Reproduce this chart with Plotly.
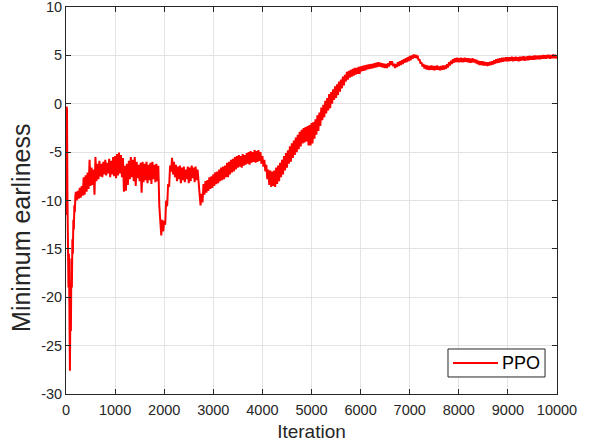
import plotly.graph_objects as go

# ---- data ----
early_iters = [0, 10, 20, 30, 40, 50, 60, 70, 80, 90,
               100, 110, 120, 130, 140, 150, 160, 170, 180, 190]
early_vals = [-11.5, -0.3, -0.5, -10.0, -15.0, -19.0, -15.5, -23.0, -27.6, -20.0,
              -23.5, -16.0, -19.0, -14.0, -15.5, -12.0, -13.0, -10.5, -11.2, -9.6]

# from iteration 200 on, one value every 20 iterations
vals_0200 = [-9.1, -10.0, -9.0, -9.8, -8.7, -9.7, -8.5, -9.5, -7.6, -9.4,
             -7.4, -9.1, -7.1, -8.8, -5.8, -8.5, -6.6, -8.4, -6.8, -9.4,
             -5.5, -8.0, -6.2, -7.8, -5.9, -7.5, -6.2, -7.6, -6.0, -7.3,
             -5.8, -7.4, -6.1, -7.2, -5.7, -7.6, -5.9, -7.3, -5.5, -7.5]
vals_1000 = [-5.4, -7.7, -5.2, -7.4, -5.05, -7.2, -5.3, -7.6, -5.6, -9.1,
             -6.4, -9.0, -6.2, -8.4, -5.9, -7.8, -5.5, -7.6, -5.8, -8.0,
             -5.5, -8.5, -6.0, -7.7, -6.3, -8.0, -6.1, -9.2, -6.0, -8.1,
             -6.2, -7.9, -6.0, -8.2, -6.3, -7.9, -6.1, -8.3, -6.0, -7.8,
             -6.3, -8.1, -6.2, -8.0, -6.4, -10.5, -12.6, -13.6, -12.0, -13.2]
vals_2000 = [-12.1, -12.5, -10.0, -10.6, -8.3, -8.6, -6.4, -7.0, -5.6, -7.3,
             -6.0, -7.6, -6.3, -8.0, -6.5, -7.8, -6.4, -8.2, -6.6, -7.9,
             -6.5, -8.1, -6.8, -7.8, -6.5, -8.2, -6.6, -8.0, -6.4, -7.7,
             -6.6, -8.1, -6.5, -7.9, -6.8, -8.3, -9.2, -10.5, -9.3, -10.2,
             -8.3, -9.4, -8.0, -9.2, -7.9, -9.0, -7.6, -8.8, -7.5, -8.7]
vals_3000 = [-7.3, -8.5, -7.1, -8.3, -7.0, -8.2, -6.8, -8.0, -6.6, -7.9,
             -6.5, -7.8, -6.4, -7.6, -6.1, -7.6, -6.0, -7.3, -5.8, -7.1,
             -5.7, -7.0, -5.5, -6.8, -5.4, -6.6, -5.3, -6.5, -5.4, -6.6,
             -5.2, -6.4, -5.3, -6.3, -5.1, -6.2, -5.0, -6.3, -4.9, -6.1,
             -5.0, -6.0, -4.8, -6.1, -4.9, -6.0, -4.8, -5.9, -5.0, -6.2]
vals_4000 = [-5.4, -6.5, -5.8, -7.0, -6.3, -7.8, -6.8, -8.4, -6.9, -8.6,
             -7.0, -8.5, -6.9, -8.6, -6.6, -8.3, -6.4, -8.0, -6.1, -7.6,
             -5.8, -7.3, -5.4, -6.9, -5.1, -6.6, -4.8, -6.2, -4.4, -6.0,
             -4.1, -5.6, -3.8, -5.3, -3.5, -5.0, -3.2, -4.7, -2.9, -4.4,
             -2.7, -4.1, -2.5, -4.0, -2.4, -3.9, -2.3, -4.3, -2.2, -4.3]
vals_5000 = [-2.0, -4.1, -1.9, -3.6, -1.6, -3.2, -1.2, -2.8, -0.9, -2.3,
             -0.4, -1.7, -0.1, -1.4, 0.3, -1.0, 0.6, -0.7, 1.0, -0.45,
             1.2, 0.0, 1.5, 0.4, 1.8, 0.6, 2.0, 0.9, 2.3, 1.25,
             2.5, 1.6, 2.8, 1.9, 3.0, 2.3, 3.3, 2.5, 3.4, 2.7,
             3.5, 2.8, 3.6, 2.9, 3.7, 3.0, 3.7, 3.1, 3.8, 3.1]
vals_6000 = [3.85, 3.35, 3.9, 3.4, 3.95, 3.45, 4.0, 3.55, 4.05, 3.6,
             4.1, 3.65, 4.1, 3.7, 4.2, 3.75, 4.25, 3.8, 4.3, 3.85,
             4.25, 3.8, 4.2, 3.75, 4.15, 3.7, 4.1, 3.7, 4.2, 3.85,
             4.4, 4.0, 4.4, 3.9, 4.15, 3.7, 4.1, 3.8, 4.3, 3.9,
             4.4, 4.0, 4.5, 4.1, 4.6, 4.25, 4.7, 4.3, 4.8, 4.4]
vals_7000 = [4.95, 4.5, 5.0, 4.65, 5.1, 4.75, 5.05, 4.7, 5.0, 4.5,
             4.6, 4.15, 4.3, 3.85, 4.1, 3.65, 4.0, 3.55, 3.95, 3.5,
             3.9, 3.5, 3.95, 3.5, 3.9, 3.45, 3.9, 3.5, 3.95, 3.5,
             3.85, 3.45, 3.9, 3.5, 3.95, 3.55, 3.95, 3.6, 4.1, 3.75,
             4.3, 3.95, 4.45, 4.1, 4.6, 4.25, 4.7, 4.3, 4.75, 4.3]
vals_8000 = [4.7, 4.3, 4.75, 4.3, 4.7, 4.3, 4.75, 4.35, 4.7, 4.3,
             4.7, 4.25, 4.65, 4.25, 4.7, 4.3, 4.6, 4.2, 4.55, 4.1,
             4.45, 4.0, 4.4, 4.0, 4.4, 3.95, 4.35, 3.95, 4.3, 3.9,
             4.3, 3.95, 4.35, 4.0, 4.4, 4.05, 4.5, 4.15, 4.6, 4.2,
             4.65, 4.25, 4.7, 4.3, 4.75, 4.35, 4.75, 4.4, 4.8, 4.4]
vals_9000 = [4.8, 4.4, 4.8, 4.45, 4.85, 4.4, 4.8, 4.45, 4.85, 4.45,
             4.8, 4.4, 4.85, 4.45, 4.85, 4.5, 4.9, 4.45, 4.85, 4.5,
             4.9, 4.5, 4.95, 4.55, 4.9, 4.55, 4.95, 4.55, 5.0, 4.6,
             4.95, 4.6, 5.0, 4.6, 5.0, 4.65, 5.05, 4.65, 5.0, 4.65,
             5.05, 4.7, 5.05, 4.65, 5.05, 4.7, 5.1, 4.7, 5.05, 4.7,
             4.9]

x_ticks = [0, 1000, 2000, 3000, 4000, 5000, 6000, 7000, 8000, 9000, 10000]
x_tick_text = ["0", "1000", "2000", "3000", "4000", "5000", "6000", "7000", "8000", "9000", "10000"]
y_ticks = [-30, -25, -20, -15, -10, -5, 0, 5, 10]
y_tick_text = ["-30", "-25", "-20", "-15", "-10", "-5", "0", "5", "10"]
series_name = "PPO"
x_title = "Iteration"
y_title = "Minimum earliness"

rest_vals = (vals_0200 + vals_1000 + vals_2000 + vals_3000 + vals_4000 +
             vals_5000 + vals_6000 + vals_7000 + vals_8000 + vals_9000)
rest_iters = [200 + 20 * i for i in range(len(rest_vals))]
iters = early_iters + rest_iters
vals = early_vals + rest_vals

AX = "#262626"
GRID = "#e3e3e3"
RED = "#ff0000"
FONT = "Liberation Sans, Arial, Helvetica, sans-serif"

fig = go.Figure()
fig.add_trace(go.Scatter(x=iters, y=vals, mode="lines", name=series_name,
                         showlegend=False, line=dict(color=RED, width=2)))

axis_common = dict(showline=True, linecolor=AX, linewidth=1, mirror="ticks",
                   ticks="inside", ticklen=5, tickcolor=AX, tickwidth=1,
                   showgrid=True, gridcolor=GRID, gridwidth=1, zeroline=False,
                   automargin=False, ticklabeloverflow="allow",
                   tickfont=dict(family=FONT, size=14.5, color=AX))

# legend box drawn in the lower-right corner of the axes (MATLAB style)
fig.add_shape(type="rect", xref="paper", yref="paper",
              x0=0.778, x1=0.9756, y0=0.044, y1=0.1163,
              line=dict(color=AX, width=1), fillcolor="white", layer="above")
fig.add_shape(type="line", xref="paper", yref="paper",
              x0=0.7882, x1=0.8798, y0=0.0801, y1=0.0801,
              line=dict(color=RED, width=2), layer="above")
fig.add_annotation(text=series_name, xref="paper", yref="paper",
                   x=0.884, y=0.0801, xanchor="left", yanchor="middle",
                   showarrow=False, font=dict(family=FONT, size=18, color="black"))

# y-axis label
fig.add_annotation(text=y_title, xref="paper", yref="paper",
                   x=-0.093, y=0.43, xanchor="center", yanchor="middle",
                   textangle=-90, showarrow=False,
                   font=dict(family=FONT, size=25, color=AX))

fig.update_layout(
    width=590, height=445,
    margin=dict(l=66, r=33, t=7, b=51),
    paper_bgcolor="white", plot_bgcolor="white",
    showlegend=False,
    xaxis=dict(range=[0, 10000], tickvals=x_ticks, ticktext=x_tick_text,
               ticklabelstandoff=3,
               title=dict(text=x_title, font=dict(family=FONT, size=19, color=AX), standoff=7),
               **axis_common),
    yaxis=dict(range=[-30, 10], tickvals=y_ticks, ticktext=y_tick_text,
               **axis_common),
)

fig.write_html("out.html", config={"displayModeBar": False},
               post_script="document.body.style.margin='0';")
